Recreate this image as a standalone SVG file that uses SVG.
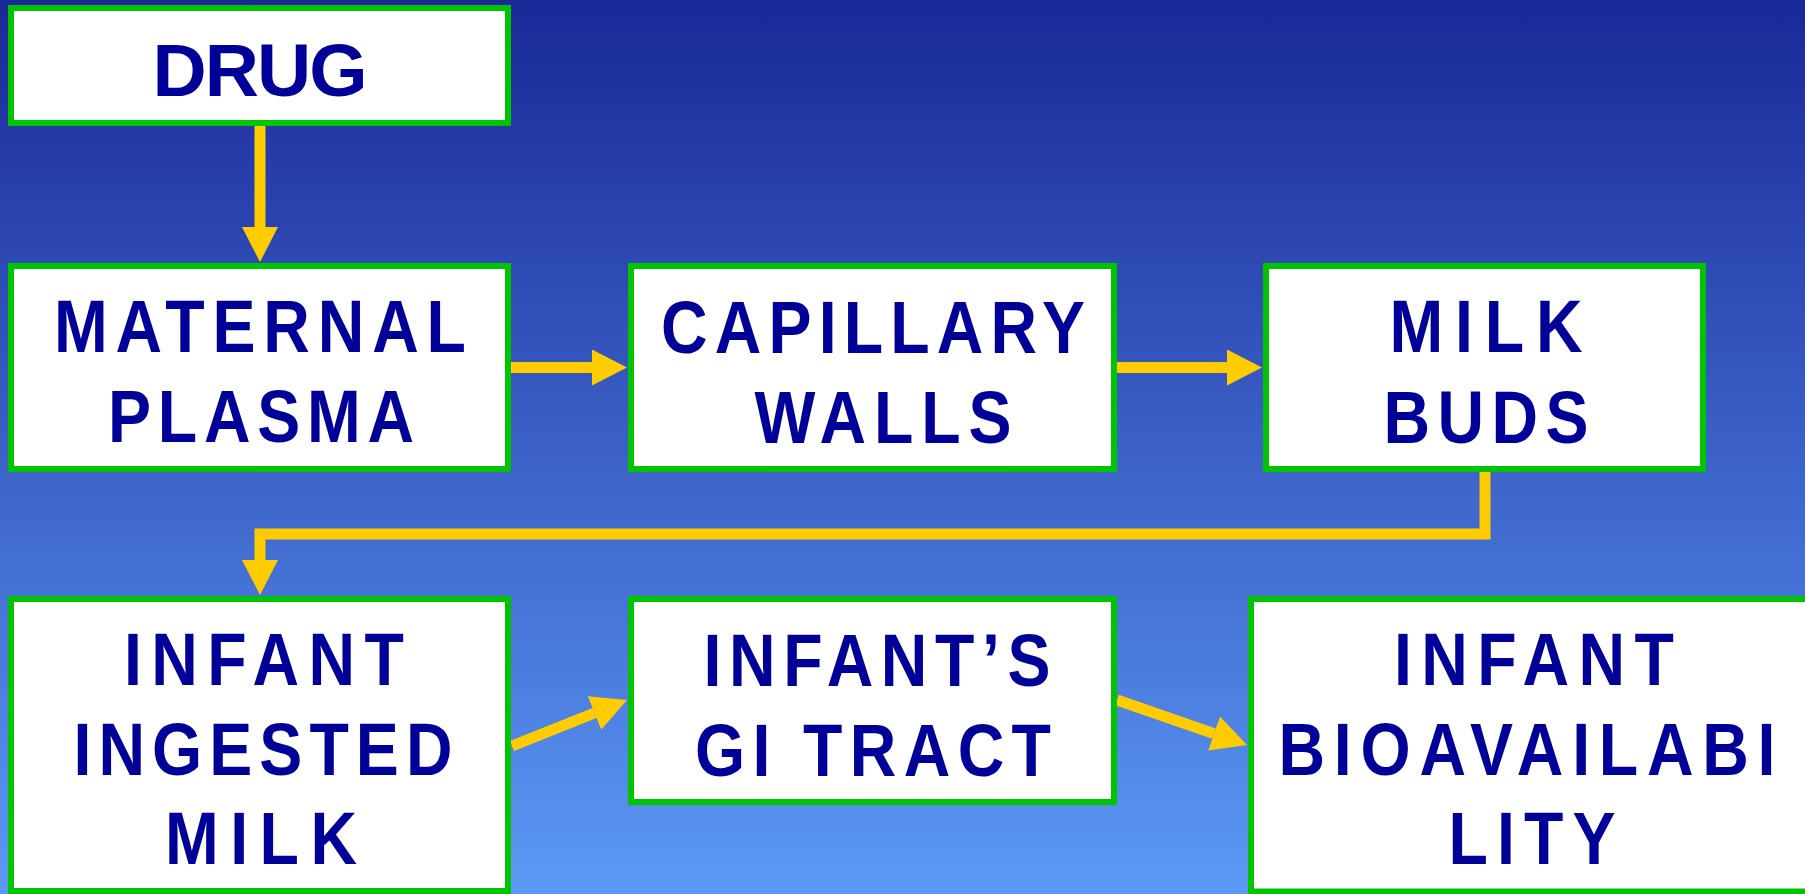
<svg xmlns="http://www.w3.org/2000/svg" width="1805" height="894" viewBox="0 0 1805 894">
<style>
.box{fill:#FFFFFF;stroke:#00C400;stroke-width:6}
.lbl{font-family:"Liberation Sans",Arial,sans-serif;font-weight:bold;font-size:75px;fill:#000099;text-anchor:middle}
.conn{fill:none;stroke:#FFCC00;stroke-width:11;stroke-linejoin:miter}
</style>
<defs>
<linearGradient id="bg" x1="0" y1="0" x2="0" y2="1">
<stop offset="0" stop-color="#1A2898"/>
<stop offset="1" stop-color="#5C99F5"/>
</linearGradient>
<marker id="ah" viewBox="0 0 35 36" refX="0" refY="18" markerWidth="35" markerHeight="36" markerUnits="userSpaceOnUse" orient="auto">
<path d="M0,0 L35,18 L0,36 Z" fill="#FFCC00"/>
</marker>
</defs>
<rect x="0" y="0" width="1805" height="894" fill="url(#bg)"/>
<g id="connectors">
<path class="conn" d="M260,126 V227" marker-end="url(#ah)"/>
<path class="conn" d="M511,367.5 H592" marker-end="url(#ah)"/>
<path class="conn" d="M1117,367.5 H1227" marker-end="url(#ah)"/>
<path class="conn" d="M1485,472 V534 H260 V560" marker-end="url(#ah)"/>
<path class="conn" d="M512,746 L594.5,713" marker-end="url(#ah)"/>
<path class="conn" d="M1117,700 L1214,733.6" marker-end="url(#ah)"/>
</g>
<g id="drug">
<rect class="box" x="11" y="8" width="497" height="115"/>
<text class="lbl" x="260" y="96" textLength="215">DRUG</text>
</g>
<g id="maternal-plasma">
<rect class="box" x="11" y="266" width="497" height="203"/>
<text class="lbl" transform="scale(0.86,1)" x="302.3" y="352" textLength="479.1">MATERNAL</text>
<text class="lbl" transform="scale(0.86,1)" x="303.5" y="442" textLength="355.8">PLASMA</text>
</g>
<g id="capillary-walls">
<rect class="box" x="631" y="266" width="483" height="203"/>
<text class="lbl" transform="scale(0.86,1)" x="1015.1" y="353" textLength="493">CAPILLARY</text>
<text class="lbl" transform="scale(0.86,1)" x="1026.7" y="443" textLength="298.8">WALLS</text>
</g>
<g id="milk-buds">
<rect class="box" x="1266" y="266" width="437" height="203"/>
<text class="lbl" transform="scale(0.86,1)" x="1727.9" y="352" textLength="224.4">MILK</text>
<text class="lbl" transform="scale(0.86,1)" x="1727.9" y="443" textLength="238.4">BUDS</text>
</g>
<g id="infant-ingested-milk">
<rect class="box" x="11" y="599" width="497" height="292"/>
<text class="lbl" transform="scale(0.86,1)" x="307" y="685" textLength="325.6">INFANT</text>
<text class="lbl" transform="scale(0.86,1)" x="305.8" y="775" textLength="440.7">INGESTED</text>
<text class="lbl" transform="scale(0.86,1)" x="303.5" y="864" textLength="223.3">MILK</text>
</g>
<g id="infant-gi-tract">
<rect class="box" x="631" y="599" width="483" height="203"/>
<text class="lbl" transform="scale(0.86,1)" x="1019.8" y="686" textLength="403.5">INFANT’S</text>
<text class="lbl" transform="scale(0.86,1)" x="1015.1" y="776" textLength="414">GI TRACT</text>
</g>
<g id="infant-bioavailability">
<rect class="box" x="1251" y="599" width="565" height="292.5"/>
<text class="lbl" transform="scale(0.86,1)" x="1783.7" y="685" textLength="325.6">INFANT</text>
<text class="lbl" transform="scale(0.86,1)" x="1775.6" y="775" textLength="577.9">BIOAVAILABI</text>
<text class="lbl" transform="scale(0.86,1)" x="1781.4" y="864" textLength="194.2">LITY</text>
</g>
</svg>
